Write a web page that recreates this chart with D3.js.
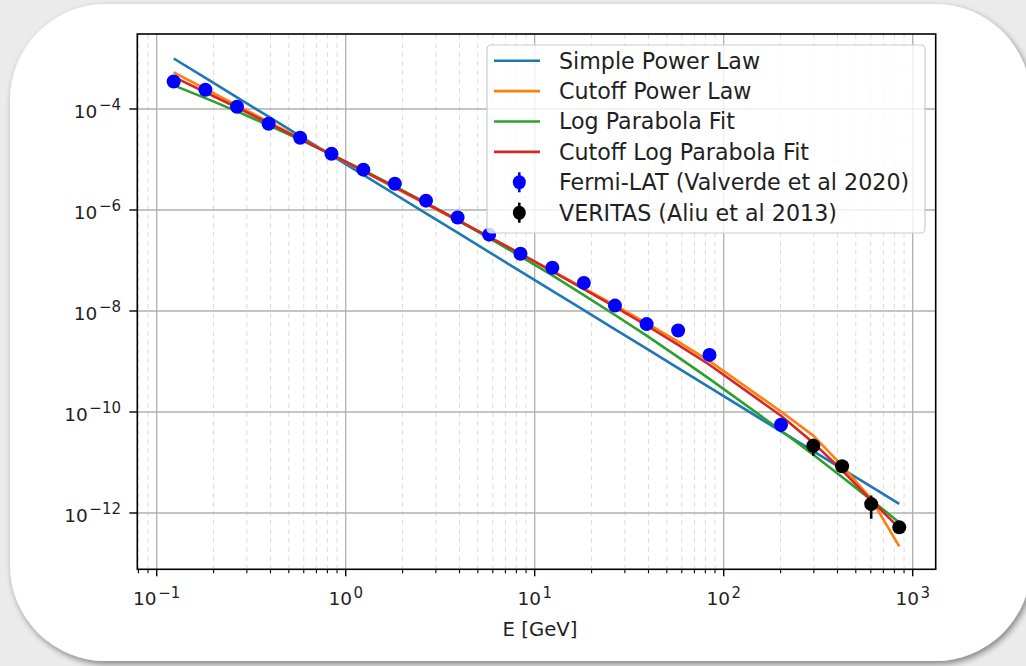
<!DOCTYPE html>
<html>
<head>
<meta charset="utf-8">
<script src="https://cdn.jsdelivr.net/npm/d3@7"></script>
<style>
  html, body { margin: 0; padding: 0; background: #ebebeb; }
  svg { display: block; }
  text { font-family: "DejaVu Sans", sans-serif; fill: #1f1f1f; }
</style>
</head>
<body>
<svg id="chart" width="1026" height="666"></svg>
<script>
// Fermi-LAT spectral points (GeV, flux)
const fermiEnergy = [0.123, 0.181, 0.266, 0.391, 0.574, 0.841, 1.24, 1.82, 2.66, 3.91, 5.74, 8.41, 12.4, 18.2, 26.6, 39.1, 57.4, 84.1, 201];
const fermiFlux   = [3.5e-4, 2.4e-4, 1.11e-4, 5.1e-5, 2.7e-5, 1.3e-5, 6.3e-6, 3.3e-6, 1.53e-6, 7.1e-7, 3.25e-7, 1.36e-7, 7.2e-8, 3.6e-8, 1.28e-8, 5.5e-9, 4.1e-9, 1.35e-9, 5.6e-11];
const fermiErr    = [2.0e-5, 1.2e-5, 5e-6, 2.5e-6, 1.2e-6, 6e-7, 3e-7, 1.5e-7, 8e-8, 4e-8, 2e-8, 8e-9, 5e-9, 2.5e-9, 1e-9, 5e-10, 4e-10, 1.5e-10, 1.6e-11];

// VERITAS spectral points
const veritasEnergy = [298, 423, 603, 849];
const veritasFlux   = [2.15e-11, 8.4e-12, 1.5e-12, 5.2e-13];
const veritasErr    = [7.9e-12, 1.5e-12, 7.3e-13, 1.2e-13];

// Fitted models, evaluated at the combined energies
const modelEnergy = [0.123, 0.181, 0.266, 0.391, 0.574, 0.841, 1.24, 1.82, 2.66, 3.91, 5.74, 8.41, 12.4, 18.2, 26.6, 39.1, 57.4, 84.1, 201, 298, 423, 603, 849];
const simplePowerLaw = [1.00e-3, 4.12e-4, 1.70e-4, 7.05e-5, 2.91e-5, 1.21e-5, 4.97e-6, 2.05e-6, 8.57e-7, 3.55e-7, 1.47e-7, 6.08e-8, 2.50e-8, 1.04e-8, 4.32e-9, 1.79e-9, 7.38e-10, 3.06e-10, 4.15e-11, 1.68e-11, 7.50e-12, 3.32e-12, 1.51e-12];
const cutoffPowerLaw = [5.31e-4, 2.50e-4, 1.18e-4, 5.57e-5, 2.63e-5, 1.24e-5, 5.85e-6, 2.75e-6, 1.31e-6, 6.14e-7, 2.87e-7, 1.34e-7, 6.19e-8, 2.84e-8, 1.29e-8, 5.74e-9, 2.47e-9, 1.02e-9, 1.02e-10, 3.4e-11, 8.7e-12, 1.9e-12, 2.18e-13];
const logParabola = [2.93e-4, 1.64e-4, 8.95e-5, 4.76e-5, 2.47e-5, 1.25e-5, 6.12e-6, 2.93e-6, 1.38e-6, 6.28e-7, 2.78e-7, 1.21e-7, 5.05e-8, 2.07e-8, 8.32e-9, 3.24e-9, 1.22e-9, 4.54e-10, 4.31e-11, 1.42e-11, 5.18e-12, 1.82e-12, 6.49e-13];
const cutoffLogParabola = [4.31e-4, 2.15e-4, 1.07e-4, 5.24e-5, 2.56e-5, 1.25e-5, 5.97e-6, 2.84e-6, 1.36e-6, 6.34e-7, 2.94e-7, 1.36e-7, 6.11e-8, 2.72e-8, 1.21e-8, 5.16e-9, 2.14e-9, 8.61e-10, 8.41e-11, 2.45e-11, 7.01e-12, 1.8e-12, 5.0e-13];

const xTickValues = [1e-1, 1e0, 1e1, 1e2, 1e3];
const xTickExponents = ["\u22121", "0", "1", "2", "3"];
const yTickValues = [1e-12, 1e-10, 1e-8, 1e-6, 1e-4];
const yTickExponents = ["\u221212", "\u221210", "\u22128", "\u22126", "\u22124"];

const seriesNames = ["Simple Power Law", "Cutoff Power Law", "Log Parabola Fit", "Cutoff Log Parabola Fit"];
const seriesColors = ["#1f77b4", "#ff7f0e", "#2ca02c", "#d62728"];
const pointNames = ["Fermi-LAT (Valverde et al 2020)", "VERITAS (Aliu et al 2013)"];
const xLabel = "E [GeV]";

(function draw() {
  const svg = d3.select("#chart");
  const W = 1026, H = 666;

  // card background with soft shadow
  const defs = svg.append("defs");
  const sh = defs.append("filter").attr("id", "cardShadow")
    .attr("x", "-10%").attr("y", "-10%").attr("width", "120%").attr("height", "120%");
  sh.append("feGaussianBlur").attr("in", "SourceAlpha").attr("stdDeviation", 3).attr("result", "b");
  sh.append("feOffset").attr("in", "b").attr("dx", 2).attr("dy", 3).attr("result", "o");
  sh.append("feComponentTransfer").attr("in", "o").attr("result", "s")
    .append("feFuncA").attr("type", "linear").attr("slope", 0.45);
  const mg = sh.append("feMerge");
  mg.append("feMergeNode").attr("in", "s");
  mg.append("feMergeNode").attr("in", "SourceGraphic");

  svg.append("rect").attr("width", W).attr("height", H).attr("fill", "#ebebeb");
  svg.append("rect")
    .attr("x", 10).attr("y", 4).attr("width", 1021).attr("height", 657)
    .attr("rx", 96).attr("ry", 96)
    .attr("fill", "#ffffff").attr("filter", "url(#cardShadow)");

  // plot area
  const pL = 137.3, pR = 935.7, pT = 34, pB = 569.3;
  const x = d3.scaleLog().domain([Math.pow(10, -1.1026), Math.pow(10, 3.1217)]).range([pL, pR]);
  const y = d3.scaleLog().domain([Math.pow(10, -13.115), Math.pow(10, -2.515)]).range([pB, pT]);

  defs.append("clipPath").attr("id", "plotClip")
    .append("rect").attr("x", pL).attr("y", pT).attr("width", pR - pL).attr("height", pB - pT);

  // minor x positions (2..9 times each decade)
  const minorX = [];
  for (let d = -2; d <= 3; d++) {
    for (let k = 2; k <= 9; k++) {
      const v = k * Math.pow(10, d);
      if (v > x.domain()[0] && v < x.domain()[1]) minorX.push(v);
    }
  }

  const grid = svg.append("g");
  grid.selectAll("line.minor").data(minorX).join("line").attr("class", "minor")
    .attr("x1", d => x(d)).attr("x2", d => x(d)).attr("y1", pT).attr("y2", pB)
    .attr("stroke", "#dcdcdc").attr("stroke-width", 1).attr("stroke-dasharray", "5,4");
  grid.selectAll("line.mx").data(xTickValues).join("line").attr("class", "mx")
    .attr("x1", d => x(d)).attr("x2", d => x(d)).attr("y1", pT).attr("y2", pB)
    .attr("stroke", "#b0b0b0").attr("stroke-width", 1.3);
  grid.selectAll("line.my").data(yTickValues).join("line").attr("class", "my")
    .attr("x1", pL).attr("x2", pR).attr("y1", d => y(d)).attr("y2", d => y(d))
    .attr("stroke", "#b0b0b0").attr("stroke-width", 1.3);

  // model curves
  const plot = svg.append("g").attr("clip-path", "url(#plotClip)");
  const models = [simplePowerLaw, cutoffPowerLaw, logParabola, cutoffLogParabola];
  const line = d3.line().x(d => x(d[0])).y(d => y(d[1]));
  models.forEach((vals, i) => {
    plot.append("path")
      .attr("d", line(modelEnergy.map((e, j) => [e, vals[j]])))
      .attr("fill", "none").attr("stroke", seriesColors[i]).attr("stroke-width", 2.6)
      .attr("stroke-linejoin", "round");
  });

  // data points with error bars
  function drawPoints(es, fs, errs, color) {
    const g = plot.append("g");
    es.forEach((e, i) => {
      const lo = Math.max(fs[i] - errs[i], 1e-20);
      g.append("line").attr("x1", x(e)).attr("x2", x(e))
        .attr("y1", y(lo)).attr("y2", y(fs[i] + errs[i]))
        .attr("stroke", color).attr("stroke-width", 2.6);
    });
    g.selectAll("circle").data(es).join("circle")
      .attr("cx", d => x(d)).attr("cy", (d, i) => y(fs[i])).attr("r", 7)
      .attr("fill", color);
  }
  drawPoints(fermiEnergy, fermiFlux, fermiErr, "#0000ff");
  drawPoints(veritasEnergy, veritasFlux, veritasErr, "#000000");

  // axes frame
  svg.append("rect").attr("x", pL).attr("y", pT).attr("width", pR - pL).attr("height", pB - pT)
    .attr("fill", "none").attr("stroke", "#000").attr("stroke-width", 1.6);

  const baseSize = 18.5, supSize = 15;

  // x ticks
  const axisG = svg.append("g");
  axisG.selectAll("line.xt").data(xTickValues).join("line").attr("class", "xt")
    .attr("x1", d => x(d)).attr("x2", d => x(d)).attr("y1", pB).attr("y2", pB + 7)
    .attr("stroke", "#000").attr("stroke-width", 1.4);
  axisG.selectAll("line.xm").data(minorX).join("line").attr("class", "xm")
    .attr("x1", d => x(d)).attr("x2", d => x(d)).attr("y1", pB).attr("y2", pB + 4)
    .attr("stroke", "#000").attr("stroke-width", 1.1);
  xTickValues.forEach((v, i) => {
    const t = axisG.append("text").attr("x", x(v)).attr("y", 605)
      .attr("text-anchor", "middle").attr("font-size", baseSize);
    t.append("tspan").text("10");
    t.append("tspan").attr("dx", 1.5).attr("dy", -7.5).attr("font-size", supSize).text(xTickExponents[i]);
  });

  // y ticks
  axisG.selectAll("line.yt").data(yTickValues).join("line").attr("class", "yt")
    .attr("x1", pL - 8).attr("x2", pL).attr("y1", d => y(d)).attr("y2", d => y(d))
    .attr("stroke", "#000").attr("stroke-width", 1.4);
  yTickValues.forEach((v, i) => {
    const t = axisG.append("text").attr("x", 121).attr("y", y(v) + 9)
      .attr("text-anchor", "end").attr("font-size", baseSize);
    t.append("tspan").text("10");
    t.append("tspan").attr("dx", 1.5).attr("dy", -7.5).attr("font-size", supSize).text(yTickExponents[i]);
  });

  // axis label
  svg.append("text").attr("x", 540).attr("y", 636)
    .attr("text-anchor", "middle").attr("font-size", 19.7).text(xLabel);

  // legend
  const lg = svg.append("g");
  lg.append("rect").attr("x", 487).attr("y", 45).attr("width", 438).attr("height", 188)
    .attr("rx", 4).attr("fill", "rgba(255,255,255,0.8)").attr("stroke", "#cccccc").attr("stroke-width", 1.2);
  const rowY = i => 60.7 + i * 30.4;
  seriesNames.forEach((name, i) => {
    lg.append("line").attr("x1", 494).attr("x2", 540).attr("y1", rowY(i)).attr("y2", rowY(i))
      .attr("stroke", seriesColors[i]).attr("stroke-width", 2.6);
    lg.append("text").attr("x", 559).attr("y", rowY(i) + 7.8).attr("font-size", 22.2).text(name);
  });
  pointNames.forEach((name, k) => {
    const i = k + 4;
    const c = k === 0 ? "#0000ff" : "#000000";
    lg.append("line").attr("x1", 519.3).attr("x2", 519.3).attr("y1", rowY(i) - 10).attr("y2", rowY(i) + 10)
      .attr("stroke", c).attr("stroke-width", 2.6);
    lg.append("ellipse").attr("cx", 519.3).attr("cy", rowY(i)).attr("rx", 6.5).attr("ry", 7).attr("fill", c);
    lg.append("text").attr("x", 559).attr("y", rowY(i) + 7.8).attr("font-size", 22.2).text(name);
  });
})();
</script>
</body>
</html>
